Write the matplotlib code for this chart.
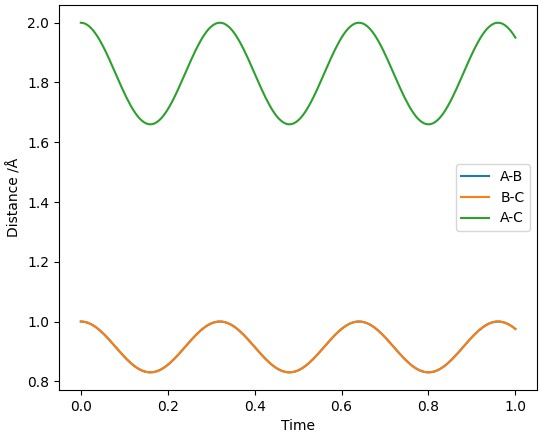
import numpy as np
import matplotlib
matplotlib.use("Agg")
import matplotlib.pyplot as plt

# time samples
time = np.linspace(0, 1, 201)

# distances (A-B and B-C overlap)
ab = [1.0000, 0.9996, 0.9984, 0.9963, 0.9935, 0.9900, 0.9857, 0.9807, 0.9751, 0.9689,
      0.9622, 0.9551, 0.9475, 0.9397, 0.9316, 0.9233, 0.9150, 0.9067, 0.8984, 0.8903,
      0.8825, 0.8749, 0.8678, 0.8611, 0.8549, 0.8493, 0.8443, 0.8400, 0.8365, 0.8337,
      0.8316, 0.8304, 0.8300, 0.8304, 0.8316, 0.8337, 0.8365, 0.8400, 0.8443, 0.8493,
      0.8549, 0.8611, 0.8678, 0.8749, 0.8825, 0.8903, 0.8984, 0.9067, 0.9150, 0.9233,
      0.9316, 0.9397, 0.9475, 0.9551, 0.9622, 0.9689, 0.9751, 0.9807, 0.9857, 0.9900,
      0.9935, 0.9963, 0.9984, 0.9996,
      1.0000, 0.9996, 0.9984, 0.9963, 0.9935, 0.9900, 0.9857, 0.9807, 0.9751, 0.9689,
      0.9622, 0.9551, 0.9475, 0.9397, 0.9316, 0.9233, 0.9150, 0.9067, 0.8984, 0.8903,
      0.8825, 0.8749, 0.8678, 0.8611, 0.8549, 0.8493, 0.8443, 0.8400, 0.8365, 0.8337,
      0.8316, 0.8304, 0.8300, 0.8304, 0.8316, 0.8337, 0.8365, 0.8400, 0.8443, 0.8493,
      0.8549, 0.8611, 0.8678, 0.8749, 0.8825, 0.8903, 0.8984, 0.9067, 0.9150, 0.9233,
      0.9316, 0.9397, 0.9475, 0.9551, 0.9622, 0.9689, 0.9751, 0.9807, 0.9857, 0.9900,
      0.9935, 0.9963, 0.9984, 0.9996,
      1.0000, 0.9996, 0.9984, 0.9963, 0.9935, 0.9900, 0.9857, 0.9807, 0.9751, 0.9689,
      0.9622, 0.9551, 0.9475, 0.9397, 0.9316, 0.9233, 0.9150, 0.9067, 0.8984, 0.8903,
      0.8825, 0.8749, 0.8678, 0.8611, 0.8549, 0.8493, 0.8443, 0.8400, 0.8365, 0.8337,
      0.8316, 0.8304, 0.8300, 0.8304, 0.8316, 0.8337, 0.8365, 0.8400, 0.8443, 0.8493,
      0.8549, 0.8611, 0.8678, 0.8749, 0.8825, 0.8903, 0.8984, 0.9067, 0.9150, 0.9233,
      0.9316, 0.9397, 0.9475, 0.9551, 0.9622, 0.9689, 0.9751, 0.9807, 0.9857, 0.9900,
      0.9935, 0.9963, 0.9984, 0.9996,
      1.0000, 0.9996, 0.9984, 0.9963, 0.9935, 0.9900, 0.9857, 0.9807, 0.9751]
bc = list(ab)
ac = [2.0000, 1.9992, 1.9968, 1.9926, 1.9870, 1.9800, 1.9714, 1.9614, 1.9502, 1.9378,
      1.9244, 1.9102, 1.8950, 1.8794, 1.8632, 1.8466, 1.8300, 1.8134, 1.7968, 1.7806,
      1.7650, 1.7498, 1.7356, 1.7222, 1.7098, 1.6986, 1.6886, 1.6800, 1.6730, 1.6674,
      1.6632, 1.6608, 1.6600, 1.6608, 1.6632, 1.6674, 1.6730, 1.6800, 1.6886, 1.6986,
      1.7098, 1.7222, 1.7356, 1.7498, 1.7650, 1.7806, 1.7968, 1.8134, 1.8300, 1.8466,
      1.8632, 1.8794, 1.8950, 1.9102, 1.9244, 1.9378, 1.9502, 1.9614, 1.9714, 1.9800,
      1.9870, 1.9926, 1.9968, 1.9992,
      2.0000, 1.9992, 1.9968, 1.9926, 1.9870, 1.9800, 1.9714, 1.9614, 1.9502, 1.9378,
      1.9244, 1.9102, 1.8950, 1.8794, 1.8632, 1.8466, 1.8300, 1.8134, 1.7968, 1.7806,
      1.7650, 1.7498, 1.7356, 1.7222, 1.7098, 1.6986, 1.6886, 1.6800, 1.6730, 1.6674,
      1.6632, 1.6608, 1.6600, 1.6608, 1.6632, 1.6674, 1.6730, 1.6800, 1.6886, 1.6986,
      1.7098, 1.7222, 1.7356, 1.7498, 1.7650, 1.7806, 1.7968, 1.8134, 1.8300, 1.8466,
      1.8632, 1.8794, 1.8950, 1.9102, 1.9244, 1.9378, 1.9502, 1.9614, 1.9714, 1.9800,
      1.9870, 1.9926, 1.9968, 1.9992,
      2.0000, 1.9992, 1.9968, 1.9926, 1.9870, 1.9800, 1.9714, 1.9614, 1.9502, 1.9378,
      1.9244, 1.9102, 1.8950, 1.8794, 1.8632, 1.8466, 1.8300, 1.8134, 1.7968, 1.7806,
      1.7650, 1.7498, 1.7356, 1.7222, 1.7098, 1.6986, 1.6886, 1.6800, 1.6730, 1.6674,
      1.6632, 1.6608, 1.6600, 1.6608, 1.6632, 1.6674, 1.6730, 1.6800, 1.6886, 1.6986,
      1.7098, 1.7222, 1.7356, 1.7498, 1.7650, 1.7806, 1.7968, 1.8134, 1.8300, 1.8466,
      1.8632, 1.8794, 1.8950, 1.9102, 1.9244, 1.9378, 1.9502, 1.9614, 1.9714, 1.9800,
      1.9870, 1.9926, 1.9968, 1.9992,
      2.0000, 1.9992, 1.9968, 1.9926, 1.9870, 1.9800, 1.9714, 1.9614, 1.9502]

fig, ax = plt.subplots(figsize=(5.42, 4.37), dpi=100)
fig.subplots_adjust(left=0.109, right=0.991, top=0.988, bottom=0.108)

ax.plot(time, ab, label='A-B')
ax.plot(time, bc, label='B-C')
ax.plot(time, ac, label='A-C')
ax.set_xlabel('Time')
ax.set_ylabel('Distance /Å')
ax.legend(loc='center right')

fig.savefig('out.png', dpi=100)
